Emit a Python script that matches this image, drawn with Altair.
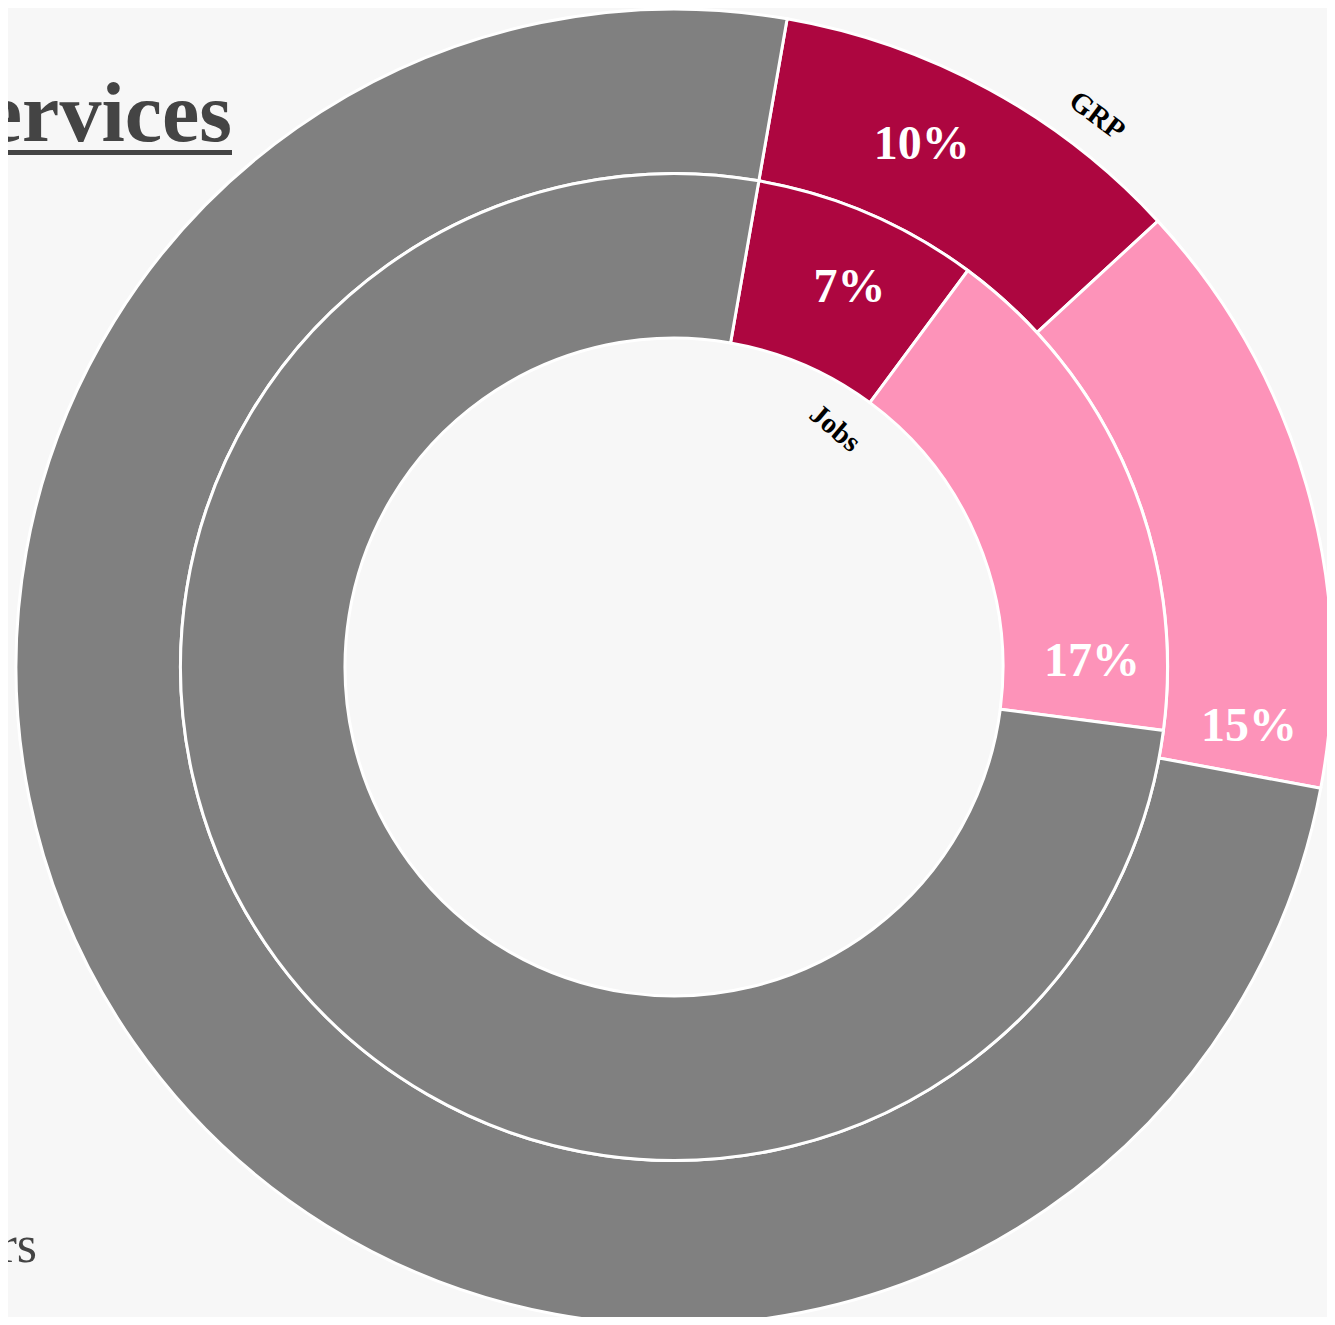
import math
import altair as alt
import pandas as pd

# ---- data ----
rings = ["GRP", "Jobs"]
categories = ["Core Services", "Related Services", "Others"]
grp_values = [10.4, 14.8, 74.8]
jobs_values = [7.4, 16.9, 75.7]
title_text = ["Services"]
legend_item = ["Others"]

colors = ["#ad0640", "#fd93b9", "#808080"]

rows = []
for ring, vals in zip(rings, [grp_values, jobs_values]):
    for i, (c, v) in enumerate(zip(categories, vals)):
        rows.append({"ring": ring, "category": c, "order": i, "value": v})
df = pd.DataFrame(rows)

# ---- layout constants ----
CX, CY = 666, 659
R = 658
START = math.radians(9.9)
FONT = "Liberation Serif"

theta_scale = alt.Scale(domain=[0, 100], range=[START, START + 2 * math.pi])
color_scale = alt.Scale(domain=categories, range=colors)

base = (
    alt.Chart(df)
    .transform_window(end="sum(value)", groupby=["ring"], sort=[alt.SortField("order")], frame=[None, 0])
    .transform_calculate(start="datum.end - datum.value", mid="(datum.start + datum.end) / 2")
)


def ring_arcs(name, outer, inner):
    return (
        base.transform_filter(f"datum.ring == '{name}'")
        .mark_arc(outerRadius=outer, innerRadius=inner, stroke="white", strokeWidth=3)
        .encode(
            theta=alt.Theta("start:Q", scale=theta_scale, stack=None),
            theta2="end:Q",
            color=alt.Color("category:N", scale=color_scale, legend=None),
            x=alt.value(CX),
            y=alt.value(CY),
        )
    )


def ring_labels(name, radius, shift_red, shift_pink):
    return (
        base.transform_filter(f"datum.ring == '{name}'")
        .transform_filter("datum.category != 'Others'")
        .transform_calculate(
            lab="format(datum.value, '.0f') + '%'",
            pos=f"datum.mid + (datum.category == 'Related Services' ? {shift_pink} : {shift_red})",
        )
        .mark_text(radius=radius, font=FONT, fontWeight="bold", fontSize=48, color="white",
                   align="center", baseline="middle")
        .encode(
            theta=alt.Theta("pos:Q", scale=theta_scale, stack=None),
            text="lab:N",
            x=alt.value(CX),
            y=alt.value(CY),
        )
    )


def ring_name(name, radius, theta_deg, angle):
    return (
        alt.Chart(pd.DataFrame({"ring": rings}))
        .transform_filter(f"datum.ring == '{name}'")
        .mark_text(radius=radius, angle=angle, font=FONT, fontWeight="bold", fontSize=29,
                   color="black", align="center", baseline="middle")
        .encode(text="ring:N", theta=alt.value(math.radians(theta_deg)),
                x=alt.value(CX), y=alt.value(CY))
    )


outer = ring_arcs("GRP", R, R * 0.75)
inner = ring_arcs("Jobs", R * 0.75, R * 0.5)
outer_lab = ring_labels("GRP", 578, -0.9, 6.1)
inner_lab = ring_labels("Jobs", 418, 0.45, 6.2)
grp_name = ring_name("GRP", 695, 37.5, 37)
jobs_name = ring_name("Jobs", 288, 34, 40)

title = (
    alt.Chart(pd.DataFrame({"t": title_text}))
    .mark_text(font=FONT, fontWeight="bold", fontSize=84, color="#444444", align="right", baseline="alphabetic")
    .encode(text="t:N", x=alt.value(224), y=alt.value(133))
)
underline = (
    alt.Chart(pd.DataFrame({"t": title_text}))
    .mark_rule(color="#444444", strokeWidth=5)
    .encode(x=alt.value(0), x2=alt.value(224), y=alt.value(144.5))
)
legend_txt = (
    alt.Chart(pd.DataFrame({"t": legend_item}))
    .mark_text(font=FONT, fontSize=52, color="#444444", align="right", baseline="alphabetic")
    .encode(text="t:N", x=alt.value(29), y=alt.value(1254))
)

chart = (
    alt.layer(outer, inner, outer_lab, inner_lab, grp_name, jobs_name, title, underline, legend_txt)
    .properties(width=1319, height=1309, autosize=alt.AutoSizeParams(type="none"), padding=0)
    .configure(background="#f7f7f7")
    .configure_view(stroke=None)
)

chart.save("out.html", embed_options={"renderer": "svg", "actions": False})
